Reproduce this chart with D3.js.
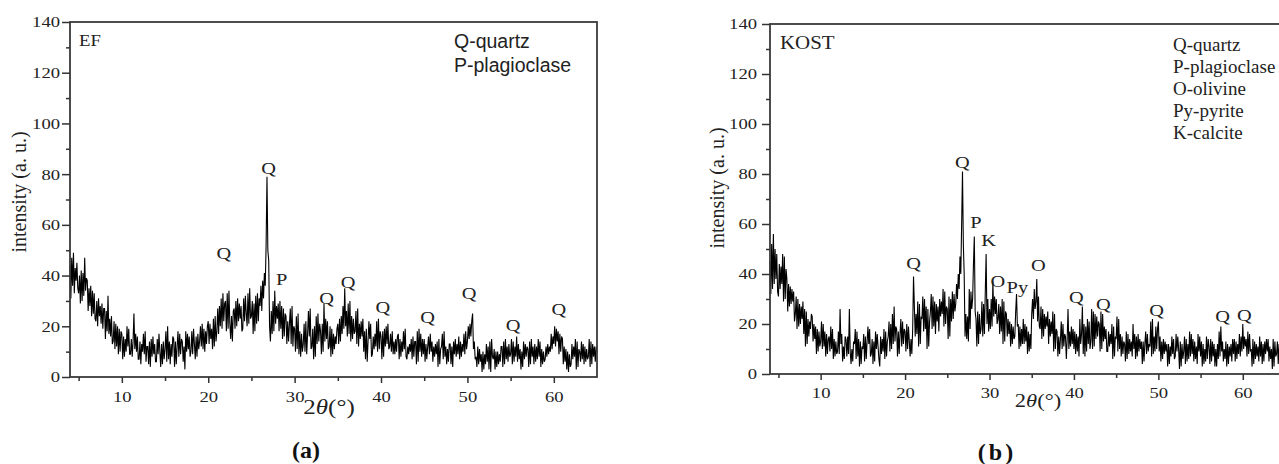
<!DOCTYPE html>
<html>
<head>
<meta charset="utf-8">
<script src="https://cdn.jsdelivr.net/npm/d3@7"></script>
<style>
  body { margin: 0; background: #fff; }
  svg text { font-family: "Liberation Serif", "Times New Roman", serif; fill: #222; }
</style>
</head>
<body>
<svg id="chart" width="1279" height="464"></svg>
<script>
// 2theta scan grid (degrees)
var thetaStart = 4, thetaStep = 0.1;

// EF pattern, one value per 0.1 deg from 4 to 65, one row per degree
var efIntensity = [
    44, 31, 47, 36, 49, 33, 43, 38, 45, 35,   // 4
    33, 40, 29, 42, 30, 41, 32, 47, 34, 39,
    38, 26, 35, 28, 36, 24, 34, 25, 33, 23,
    22, 30, 20, 31, 24, 28, 21, 29, 19, 27,
    27, 15, 26, 18, 32, 17, 23, 16, 24, 13,
    14, 22, 11, 21, 12, 20, 9, 19, 10, 18,
    17, 7, 16, 8, 15, 10, 20, 12, 19, 9,      // 10
    9, 15, 8, 14, 25, 11, 17, 10, 16, 7,
    7, 14, 5, 13, 10, 17, 9, 18, 6, 12,
    12, 5, 14, 4, 15, 8, 16, 9, 13, 6,
    6, 15, 9, 17, 10, 4, 13, 5, 14, 7,
    11, 18, 6, 20, 7, 14, 5, 13, 8, 16,
    15, 4, 14, 5, 12, 18, 8, 17, 9, 15,
    14, 6, 12, 3, 18, 10, 17, 11, 16, 8,
    10, 18, 9, 19, 13, 7, 16, 8, 17, 11,
    14, 20, 12, 21, 11, 19, 10, 18, 13, 20,
    22, 13, 21, 15, 19, 11, 23, 12, 24, 14,   // 20
    18, 27, 17, 28, 20, 31, 19, 33, 22, 29,
    30, 18, 33, 19, 34, 21, 15, 24, 14, 26,
    27, 19, 30, 20, 31, 22, 29, 23, 28, 18,
    19, 31, 22, 32, 25, 20, 33, 21, 35, 23,
    24, 30, 17, 29, 18, 32, 21, 33, 22, 31,
    28, 36, 26, 38, 31, 41, 36, 52, 79, 50,
    46, 20, 14, 26, 17, 30, 18, 34, 21, 28,
    23, 29, 18, 30, 19, 28, 15, 27, 16, 25,
    24, 13, 22, 14, 21, 27, 13, 28, 12, 20,
    19, 10, 24, 11, 25, 9, 18, 8, 17, 10,     // 30
    13, 21, 10, 22, 9, 17, 26, 16, 27, 11,
    12, 19, 7, 20, 8, 24, 13, 25, 14, 21,
    18, 9, 21, 10, 29, 14, 23, 15, 22, 11,
    12, 20, 8, 19, 9, 17, 11, 16, 13, 19,
    21, 13, 23, 14, 24, 17, 28, 19, 35, 20,
    26, 16, 29, 17, 30, 14, 24, 15, 23, 17,
    18, 26, 13, 27, 12, 21, 15, 22, 16, 23,
    10, 18, 7, 19, 6, 14, 22, 15, 21, 8,
    9, 16, 11, 17, 12, 22, 10, 23, 11, 18,
    16, 7, 18, 8, 19, 12, 20, 13, 21, 11,     // 40
    12, 17, 10, 18, 9, 14, 9, 15, 10, 16,
    17, 7, 15, 8, 14, 10, 18, 11, 19, 8,
    7, 12, 9, 13, 10, 15, 7, 16, 8, 14,
    14, 5, 18, 6, 19, 10, 17, 8, 15, 9,
    15, 6, 13, 7, 12, 16, 9, 17, 10, 14,
    6, 12, 8, 13, 9, 14, 4, 15, 5, 11,
    12, 17, 7, 18, 8, 12, 5, 11, 6, 13,
    13, 5, 12, 4, 14, 9, 15, 8, 13, 9,
    16, 7, 14, 8, 13, 10, 17, 9, 18, 11,
    14, 20, 15, 21, 16, 22, 25, 11, 14, 7,    // 50
    8, 4, 12, 5, 11, 6, 9, 2, 10, 3,
    9, 5, 13, 6, 12, 3, 14, 2, 15, 8,
    7, 11, 3, 10, 4, 10, 5, 9, 6, 12,
    12, 4, 14, 5, 15, 7, 12, 6, 13, 8,
    9, 15, 5, 14, 6, 12, 8, 16, 6, 13,
    7, 11, 3, 10, 4, 14, 7, 13, 8, 12,
    11, 4, 14, 5, 15, 8, 12, 5, 13, 6,
    12, 7, 15, 8, 14, 4, 11, 5, 10, 6,
    7, 12, 8, 13, 9, 12, 10, 17, 11, 16,
    13, 20, 12, 19, 14, 18, 9, 17, 10, 16,    // 60
    15, 5, 12, 6, 11, 3, 10, 2, 9, 4,
    5, 13, 7, 12, 8, 15, 3, 14, 4, 11,
    10, 6, 14, 7, 13, 5, 12, 6, 11, 7,
    8, 15, 4, 14, 5, 13, 8, 12, 6, 12,
    10
];

// KOST pattern, same grid
var kostIntensity = [
    45, 32, 52, 34, 56, 36, 50, 38, 48, 33,   // 4
    31, 44, 34, 43, 36, 48, 29, 47, 30, 42,
    38, 25, 36, 27, 35, 28, 34, 29, 33, 21,
    24, 31, 18, 30, 19, 28, 20, 27, 22, 29,
    16, 26, 11, 25, 12, 22, 15, 21, 18, 24,
    23, 13, 20, 14, 19, 8, 18, 9, 17, 11,
    13, 21, 10, 20, 11, 17, 7, 16, 8, 14,     // 10
    15, 9, 19, 10, 18, 6, 14, 7, 13, 8,
    9, 17, 8, 26, 12, 16, 5, 11, 6, 15,
    14, 7, 15, 8, 26, 9, 4, 10, 5, 13,
    12, 18, 6, 17, 7, 14, 3, 13, 4, 11,
    10, 16, 5, 15, 6, 13, 19, 12, 18, 7,
    8, 14, 4, 13, 5, 17, 10, 16, 11, 6,
    3, 15, 8, 14, 9, 18, 6, 17, 7, 13,
    15, 21, 9, 20, 10, 24, 12, 27, 13, 19,
    18, 7, 17, 8, 16, 22, 11, 21, 12, 18,
    17, 9, 20, 10, 19, 13, 7, 14, 8, 18,      // 20
    39, 27, 15, 24, 16, 29, 11, 28, 12, 23,
    22, 31, 17, 30, 18, 27, 10, 26, 11, 21,
    25, 32, 18, 31, 19, 29, 16, 28, 21, 27,
    17, 30, 23, 29, 24, 34, 19, 33, 20, 27,
    26, 14, 31, 15, 30, 21, 33, 22, 32, 25,
    28, 36, 30, 40, 34, 47, 40, 60, 81, 52,
    40, 15, 24, 14, 23, 13, 34, 18, 33, 26,
    30, 44, 55, 25, 22, 11, 25, 12, 24, 16,
    18, 29, 15, 28, 16, 33, 48, 20, 30, 17,
    26, 18, 30, 19, 37, 23, 31, 24, 30, 20,   // 30
    22, 28, 16, 27, 17, 30, 12, 29, 13, 25,
    24, 15, 22, 16, 21, 11, 20, 12, 19, 14,
    15, 25, 32, 19, 20, 10, 19, 11, 18, 12,
    22, 12, 20, 13, 19, 8, 17, 9, 16, 10,
    24, 30, 22, 34, 26, 29, 38, 21, 31, 19,
    18, 27, 14, 26, 15, 24, 18, 23, 19, 25,
    12, 22, 15, 21, 16, 25, 9, 24, 10, 18,
    17, 7, 15, 8, 14, 21, 10, 20, 11, 16,
    15, 6, 14, 26, 10, 17, 11, 19, 12, 18,
    10, 17, 8, 16, 9, 15, 7, 22, 12, 16,      // 40
    27, 8, 20, 7, 19, 9, 22, 12, 21, 10,
    13, 26, 10, 25, 11, 24, 14, 23, 15, 21,
    20, 9, 25, 10, 24, 13, 19, 14, 18, 9,
    9, 17, 11, 16, 12, 20, 6, 19, 7, 15,
    14, 23, 9, 22, 10, 16, 7, 15, 8, 13,
    12, 5, 17, 6, 16, 8, 14, 9, 13, 7,
    20, 10, 16, 6, 15, 7, 16, 9, 14, 10,
    13, 4, 13, 5, 12, 17, 8, 16, 9, 12,
    11, 21, 7, 22, 8, 15, 9, 19, 10, 18,
    21, 9, 15, 5, 13, 6, 14, 8, 13, 9,       // 50
    12, 3, 12, 4, 11, 7, 15, 8, 14, 6,
    7, 16, 9, 15, 10, 2, 13, 3, 12, 6,
    9, 15, 4, 14, 5, 12, 6, 17, 7, 16,
    8, 14, 5, 13, 6, 11, 4, 16, 9, 15,
    7, 13, 3, 12, 4, 10, 5, 15, 6, 14,
    11, 4, 14, 5, 13, 7, 12, 3, 10, 3,
    12, 6, 17, 7, 19, 9, 13, 5, 10, 6,
    13, 3, 12, 4, 11, 7, 12, 5, 14, 8,
    14, 5, 13, 6, 12, 8, 16, 7, 15, 9,
    20, 10, 15, 11, 14, 7, 17, 8, 16, 9,      // 60
    10, 3, 14, 4, 13, 6, 12, 7, 11, 5,
    15, 7, 13, 4, 12, 5, 13, 8, 14, 9,
    14, 5, 11, 6, 10, 2, 14, 3, 13, 7,
    8, 13, 4, 12, 5, 16, 8, 15, 9, 12,
    11
];

var yTickValues = [0, 20, 40, 60, 80, 100, 120, 140];
var yMinorValues = [10, 30, 50, 70, 90, 110, 130];
var xTickValues = [10, 20, 30, 40, 50, 60];
var xMinorValues = [5, 15, 25, 35, 45, 55];

// peak marks: phase letter, 2theta, intensity level of the letter
var efPeakLabels = ["Q", "Q", "P", "Q", "Q", "Q", "Q", "Q", "Q", "Q"];
var efPeakTheta  = [21.8, 27.0, 28.5, 33.7, 36.2, 40.2, 45.4, 50.2, 55.3, 60.6];
var efPeakLevel  = [46.5, 80, 36.3, 28.8, 35, 25.2, 21.3, 30.8, 18.1, 24.4];

var kostPeakLabels = ["Q", "Q", "P", "K", "O", "Py", "O", "Q", "Q", "Q", "Q", "Q"];
var kostPeakTheta  = [21.0, 26.8, 28.4, 29.9, 31.0, 33.3, 35.8, 40.3, 43.5, 49.8, 57.6, 60.2];
var kostPeakLevel  = [42, 82.4, 58.4, 51.2, 34.8, 32.4, 41.2, 28.4, 25.6, 23.2, 20.8, 21.2];

var efLegend = ["Q-quartz", "P-plagioclase"];
var kostLegend = ["Q-quartz", "P-plagioclase", "O-olivine", "Py-pyrite", "K-calcite"];

var svg = d3.select("#chart");

function drawPanel(cfg) {
    var g = svg.append("g");

    var x = d3.scaleLinear()
            .domain([4, 65])
            .range([cfg.left, cfg.right]);
    var y = d3.scaleLinear()
            .domain([0, 140])
            .range([cfg.bottom, cfg.top]);

    var points = cfg.values.map((v, i) => [thetaStart + i * thetaStep, v]);

    // the scan
    g.append("path")
        .datum(points)
        .attr("fill", "none")
        .attr("stroke", "#000")
        .attr("stroke-width", 1.1)
        .attr("d", d3.line().x(d => x(d[0])).y(d => y(d[1])));

    // frame
    g.append("rect")
        .attr("x", cfg.left)
        .attr("y", cfg.top)
        .attr("width", cfg.right - cfg.left)
        .attr("height", cfg.bottom - cfg.top)
        .attr("fill", "none")
        .attr("stroke", "#3a3a3a")
        .attr("stroke-width", 1.8);

    // x axis
    var xAxis = g.append("g")
        .attr("transform", "translate(0," + cfg.bottom + ")")
        .attr("color", "#333")
        .call(d3.axisBottom(x).tickValues(xTickValues).tickSize(6).tickPadding(cfg.xPad));
    xAxis.select(".domain").remove();
    xAxis.selectAll("line").attr("stroke-width", 1.5);
    xAxis.selectAll("text")
        .attr("font-family", "Liberation Serif")
        .attr("font-size", 15.5)
        .attr("transform", "scale(1.2,1)");

    var xMinor = g.append("g")
        .attr("transform", "translate(0," + cfg.bottom + ")")
        .attr("color", "#333")
        .call(d3.axisBottom(x).tickValues(xMinorValues).tickSize(4).tickFormat(""));
    xMinor.select(".domain").remove();
    xMinor.selectAll("line").attr("stroke-width", 1.5);

    // y axis
    var yAxis = g.append("g")
        .attr("transform", "translate(" + cfg.left + ",0)")
        .attr("color", "#333")
        .call(d3.axisLeft(y).tickValues(yTickValues).tickSize(8));
    yAxis.select(".domain").remove();
    yAxis.selectAll("line").attr("stroke-width", 1.5);
    yAxis.selectAll("text")
        .attr("font-family", "Liberation Serif")
        .attr("font-size", 15.5)
        .attr("x", -cfg.yGap / 1.2)
        .attr("transform", "scale(1.2,1)");

    var yMinor = g.append("g")
        .attr("transform", "translate(" + cfg.left + ",0)")
        .attr("color", "#333")
        .call(d3.axisLeft(y).tickValues(yMinorValues).tickSize(4).tickFormat(""));
    yMinor.select(".domain").remove();
    yMinor.selectAll("line").attr("stroke-width", 1.5);

    // axis titles
    g.append("text")
        .attr("transform", "translate(" + cfg.yTitleX + "," + cfg.yTitleY + ") rotate(-90)")
        .attr("text-anchor", "middle")
        .attr("font-size", 20)
        .text("intensity (a. u.)");

    var xt = g.append("text")
        .attr("transform", "translate(" + cfg.xTitleX + "," + cfg.xTitleY + ") scale(1.25,1)")
        .attr("text-anchor", "middle")
        .attr("font-size", cfg.xTitleSize)
        .attr("fill", "#333");
    xt.append("tspan").text("2");
    xt.append("tspan").attr("font-style", "italic").text("θ");
    xt.append("tspan").text("(°)");

    // sample name
    g.append("text")
        .attr("transform", "translate(" + cfg.nameX + "," + cfg.nameY + ") scale(1.1,1)")
        .attr("font-size", cfg.nameSize)
        .text(cfg.name);

    // peak letters
    g.selectAll("text.peak")
        .data(cfg.peakLabels)
        .join("text")
        .attr("class", "peak")
        .attr("transform", (d, i) => "translate(" + x(cfg.peakTheta[i]) + "," + y(cfg.peakLevel[i]) + ") scale(1.2,1)")
        .attr("text-anchor", "middle")
        .attr("font-size", 17)
        .text(d => d);

    // legend text
    g.selectAll("text.legend")
        .data(cfg.legend)
        .join("text")
        .attr("class", "legend")
        .attr("x", cfg.legendX)
        .attr("y", (d, i) => cfg.legendY + i * cfg.legendStep)
        .attr("font-size", cfg.legendSize)
        .style("font-family", cfg.legendFont)
        .text(d => d);

    // panel letter
    g.append("text")
        .attr("x", cfg.tagX)
        .attr("y", cfg.tagY)
        .attr("text-anchor", "middle")
        .attr("font-size", 24)
        .attr("font-weight", "bold")
        .attr("letter-spacing", cfg.tagSpacing)
        .style("fill", "#111")
        .text(cfg.tag);
}

drawPanel({
    values: efIntensity,
    left: 70, right: 597, top: 22, bottom: 377,
    xPad: 8, yGap: 10,
    yTitleX: 26, yTitleY: 192,
    xTitleX: 329, xTitleY: 414, xTitleSize: 20,
    name: "EF", nameX: 79, nameY: 46, nameSize: 17,
    peakLabels: efPeakLabels, peakTheta: efPeakTheta, peakLevel: efPeakLevel,
    legend: efLegend, legendX: 454, legendY: 48, legendStep: 24, legendSize: 19.5,
    legendFont: "'Liberation Sans', Arial, sans-serif",
    tag: "(a)", tagX: 306, tagY: 458, tagSpacing: 0
});

drawPanel({
    values: kostIntensity,
    left: 770, right: 1285, top: 24, bottom: 374,
    xPad: 7, yGap: 13,
    yTitleX: 724, yTitleY: 188,
    xTitleX: 1038, xTitleY: 407, xTitleSize: 18,
    name: "KOST", nameX: 780, nameY: 49, nameSize: 19,
    peakLabels: kostPeakLabels, peakTheta: kostPeakTheta, peakLevel: kostPeakLevel,
    legend: kostLegend, legendX: 1173, legendY: 51, legendStep: 22, legendSize: 19,
    legendFont: "'Liberation Serif', 'Times New Roman', serif",
    tag: "(b)", tagX: 997, tagY: 460, tagSpacing: 3
});
</script>
</body>
</html>
